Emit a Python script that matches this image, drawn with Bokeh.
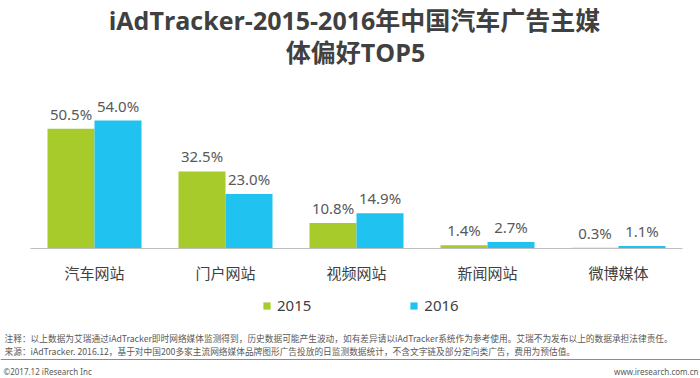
from bokeh.plotting import figure
from bokeh.models import Range1d, ColumnDataSource, Legend, LegendItem
from bokeh.transform import dodge
from bokeh.core.properties import value
from bokeh.embed import file_html
from bokeh.resources import INLINE

categories = ["汽车网站", "门户网站", "视频网站", "新闻网站", "微博媒体"]
v2015 = [50.5, 32.5, 10.8, 1.4, 0.3]
v2016 = [54.0, 23.0, 14.9, 2.7, 1.1]
series_names = ["2015", "2016"]
title_lines = ["iAdTracker-2015-2016年中国汽车广告主媒", "体偏好TOP5"]
note_lines = [
    "注释：以上数据为艾瑞通过iAdTracker即时网络媒体监测得到，历史数据可能产生波动，如有差异请以iAdTracker系统作为参考使用。艾瑞不为发布以上的数据承担法律责任。",
    "来源：iAdTracker. 2016.12，基于对中国200多家主流网络媒体品牌图形广告投放的日监测数据统计，不含文字链及部分定向类广告，费用为预估值。",
]
copyright_text = "©2017.12 iResearch Inc"
site_text = "www.iresearch.com.cn"

W, H = 700, 378
X0, DX = 94.0, 131.0      # pixel centre of first category, spacing
Y0, SY = 248.0, 2.37      # baseline pixel row, px per percent


def px(x):
    return (x - X0) / DX


def py(y):
    return (Y0 - y) / SY


GREEN = "#A6CB2B"
BLUE = "#20C3F0"
DARK = "#404040"
GRAY = "#595959"
CJK = "Noto Sans CJK SC"
MIX = "'Open Sans', 'Noto Sans CJK SC'"

p = figure(width=W, height=H, output_backend="svg", toolbar_location=None,
           x_range=Range1d(px(0), px(W)), y_range=Range1d(py(H), py(0)),
           min_border=0, outline_line_color=None)
p.axis.visible = False
p.grid.visible = False
p.background_fill_color = "white"
p.border_fill_color = "white"

xs = list(range(len(categories)))
src = ColumnDataSource(dict(
    x=xs, cat=categories, v2015=v2015, v2016=v2016,
    l2015=[f"{v:.1f}%" for v in v2015], l2016=[f"{v:.1f}%" for v in v2016],
))

off = 23.5 / DX
bw = 47.0 / DX
r1 = p.vbar(x=dodge("x", -off, range=p.x_range), top="v2015", bottom=0, width=bw,
            fill_color=GREEN, line_color=None, source=src)
r2 = p.vbar(x=dodge("x", off, range=p.x_range), top="v2016", bottom=0, width=bw,
            fill_color=BLUE, line_color=None, source=src)

# baseline
p.segment(x0=[px(30)], y0=[0], x1=[px(682)], y1=[0], line_color="#BFBFBF", line_width=1)

# value labels
for col, lab, o in (("v2015", "l2015", -off), ("v2016", "l2016", off)):
    p.text(x=dodge("x", o, range=p.x_range), y=col, text=lab, source=src,
           text_align="center", text_baseline="bottom", y_offset=-5,
           text_font=value("Noto Sans"), text_font_size="15px", text_color=GRAY)

# category labels
p.text(x="x", y=py(272), text="cat", source=src, text_align="center",
       text_baseline="middle", text_font=value(CJK), text_font_size="15px",
       text_color=DARK)

# title
p.text(x=[px(354), px(355)], y=[py(19), py(51)], text=title_lines,
       text_align="center", text_baseline="middle", text_font=value(MIX),
       text_font_style="bold", text_font_size="25px", text_color=DARK)

# notes
p.text(x=[px(4), px(4)], y=[py(338), py(351)], text=note_lines,
       text_align="left", text_baseline="middle", text_font=value(CJK),
       text_font_size="8.7px", text_color=GRAY)
p.segment(x0=[px(0)], y0=[py(359)], x1=[px(700)], y1=[py(359)],
          line_color="#8C8C8C", line_width=1)
p.text(x=[px(3)], y=[py(371)], text=[copyright_text], text_align="left",
       text_baseline="middle", text_font=value("Noto Sans"), text_font_size="8px",
       text_color=GRAY)
p.text(x=[px(698)], y=[py(371)], text=[site_text], text_align="right",
       text_baseline="middle", text_font=value("Noto Sans"), text_font_size="8px",
       text_color=GRAY)

legend = Legend(items=[LegendItem(label=series_names[0], renderers=[r1]),
                       LegendItem(label=series_names[1], renderers=[r2])],
                orientation="horizontal", location=(262, H - 305 - 10),
                glyph_width=9, glyph_height=9, label_standoff=6, spacing=98,
                padding=0, margin=0, border_line_color=None,
                background_fill_alpha=0, label_text_font="Noto Sans",
                label_text_font_size="15px", label_text_color=DARK,
                label_height=20)
p.add_layout(legend, "center")

open("out.html", "w").write(file_html(p, INLINE))
